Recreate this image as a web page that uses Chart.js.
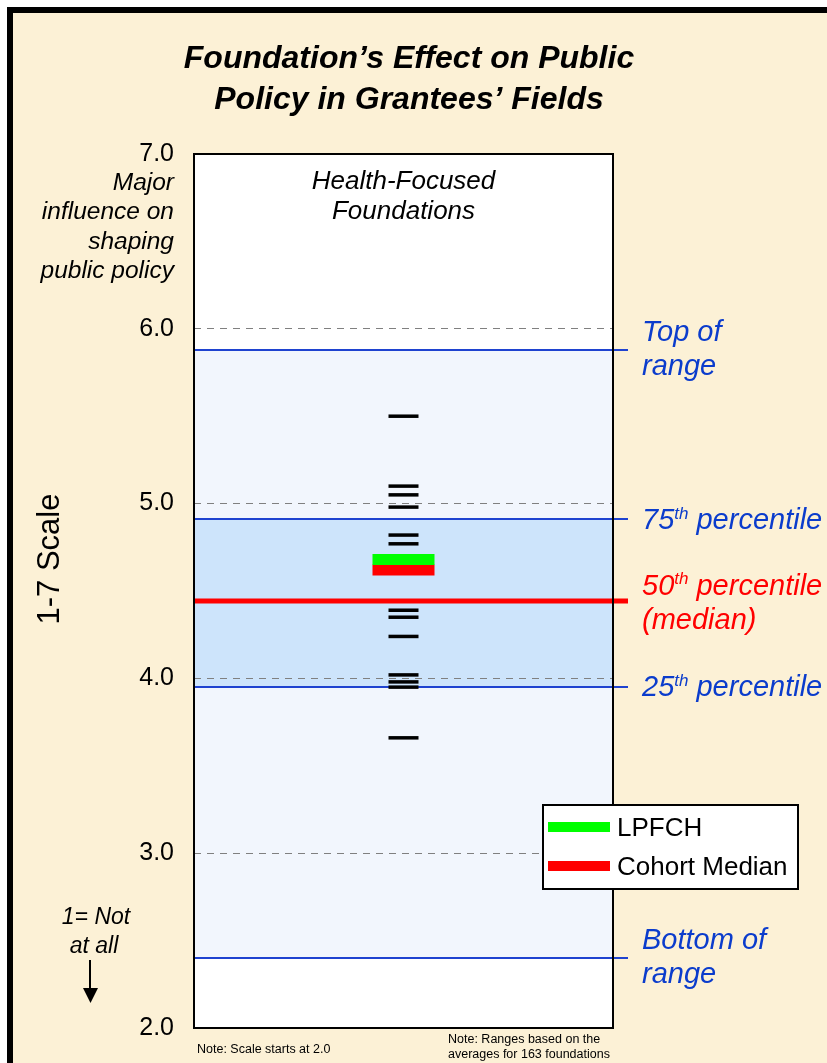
<!DOCTYPE html>
<html>
<head>
<meta charset="utf-8">
<title>Foundation's Effect on Public Policy</title>
<script src="https://cdn.jsdelivr.net/npm/chart.js@4.4.0/dist/chart.umd.min.js"></script>
<style>
  html, body { margin: 0; padding: 0; background: #ffffff; }
  #wrap { position: relative; width: 827px; height: 1063px; }
</style>
</head>
<body>
<div id="wrap"><canvas id="chart"></canvas></div>
<script>
// values (1-7 scale)
const foundationScores = [5.50, 5.10, 5.05, 4.98, 4.82, 4.77, 4.39, 4.35, 4.24, 4.02, 3.98, 3.95, 3.66]
const lpfchScore = [4.68]
const cohortMedianScore = [4.62]
const rangeNames = ['bottom', 'p25', 'median', 'p75', 'top']
const rangeValues = [2.40, 3.95, 4.44, 4.91, 5.88]
const yTicks = [2, 3, 4, 5, 6, 7]

const FONT = 'Arial, "Liberation Sans", sans-serif'
const cream = '#fcf1d6'
const blue = '#0b3ccc'
const range = (name) => rangeValues[rangeNames.indexOf(name)]

const backgroundPlugin = {
    id: 'background',
    beforeDraw: (chart) => {
        const { ctx, chartArea, scales: { y } } = chart
        const { left, right, top, bottom } = chartArea
        ctx.save()
        ctx.fillStyle = '#ffffff'
        ctx.fillRect(0, 0, chart.width, chart.height)
        ctx.fillStyle = cream
        ctx.fillRect(7, 7, chart.width, chart.height)
        ctx.strokeStyle = '#000000'
        ctx.lineWidth = 6
        ctx.beginPath()
        ctx.moveTo(10, chart.height + 10)
        ctx.lineTo(10, 10)
        ctx.lineTo(chart.width + 10, 10)
        ctx.stroke()

        ctx.fillStyle = '#ffffff'
        ctx.fillRect(left, top, right - left, bottom - top)

        // full range band and interquartile band
        const yTop = y.getPixelForValue(range('top'))
        const yBot = y.getPixelForValue(range('bottom'))
        ctx.fillStyle = '#f2f6fd'
        ctx.fillRect(left, yTop, right - left, yBot - yTop)
        const y75 = y.getPixelForValue(range('p75'))
        const y25 = y.getPixelForValue(range('p25'))
        ctx.fillStyle = '#cde4fb'
        ctx.fillRect(left, y75, right - left, y25 - y75)
        ctx.restore()
    }
}

const rangeLinesPlugin = {
    id: 'rangeLines',
    beforeDatasetsDraw: (chart) => {
        const { ctx, chartArea, scales: { y } } = chart
        ctx.save()
        rangeNames.forEach((name, i) => {
            const py = Math.round(y.getPixelForValue(rangeValues[i]))
            ctx.beginPath()
            if (name === 'median') {
                ctx.strokeStyle = '#ff0000'
                ctx.lineWidth = 5
            } else {
                ctx.strokeStyle = '#1f43d0'
                ctx.lineWidth = 2
            }
            ctx.moveTo(chartArea.left, py)
            ctx.lineTo(chartArea.right + 15, py)
            ctx.stroke()
        })
        ctx.restore()
    }
}

const drawSup = (ctx, x, y, big, sup, rest) => {
    ctx.font = `italic 29px ${FONT}`
    ctx.fillText(big, x, y)
    let cx = x + ctx.measureText(big).width
    ctx.font = `italic 17px ${FONT}`
    ctx.fillText(sup, cx, y - 7)
    cx += ctx.measureText(sup).width
    ctx.font = `italic 29px ${FONT}`
    ctx.fillText(rest, cx, y)
}

const annotationsPlugin = {
    id: 'annotations',
    afterDraw: (chart) => {
        const { ctx, chartArea, scales: { y } } = chart
        const { left, right, top, bottom } = chartArea
        const mid = (left + right) / 2
        ctx.save()

        // plot box
        ctx.strokeStyle = '#000000'
        ctx.lineWidth = 2
        ctx.strokeRect(left, top, right - left, bottom - top)

        // title
        ctx.fillStyle = '#000000'
        ctx.textAlign = 'center'
        ctx.textBaseline = 'middle'
        ctx.font = `italic bold 32px ${FONT}`
        ctx.fillText('Foundation\u2019s Effect on Public', 409, 59)
        ctx.fillText('Policy in Grantees\u2019 Fields', 409, 100)

        ctx.font = `italic 26px ${FONT}`
        ctx.fillText('Health-Focused', mid, 182)
        ctx.fillText('Foundations', mid, 212)

        // left side notes
        ctx.textAlign = 'right'
        ctx.font = `italic 24.5px ${FONT}`
        ;['Major', 'influence on', 'shaping', 'public policy'].forEach((t, i) => {
            ctx.fillText(t, 174, 183 + i * 29.5)
        })

        ctx.textAlign = 'center'
        ctx.font = `italic 23px ${FONT}`
        ctx.fillText('1= Not', 96, 918)
        ctx.fillText('at all', 94, 947)
        ctx.beginPath()
        ctx.lineWidth = 2
        ctx.moveTo(90, 960)
        ctx.lineTo(90, 990)
        ctx.stroke()
        ctx.beginPath()
        ctx.moveTo(83, 988)
        ctx.lineTo(98, 988)
        ctx.lineTo(90.5, 1003)
        ctx.closePath()
        ctx.fill()

        ctx.save()
        ctx.translate(50, 559)
        ctx.rotate(-Math.PI / 2)
        ctx.font = `31px ${FONT}`
        ctx.fillText('1-7 Scale', 0, 0)
        ctx.restore()

        // right side range labels
        ctx.textAlign = 'left'
        ctx.fillStyle = blue
        const lx = 642
        const pTop = y.getPixelForValue(range('top'))
        ctx.font = `italic 29px ${FONT}`
        ctx.fillText('Top of', lx, pTop - 17)
        ctx.fillText('range', lx, pTop + 17)
        drawSup(ctx, lx, y.getPixelForValue(range('p75')) + 2, '75', 'th', ' percentile')
        drawSup(ctx, lx, y.getPixelForValue(range('p25')) + 1, '25', 'th', ' percentile')
        const pBot = y.getPixelForValue(range('bottom'))
        ctx.font = `italic 29px ${FONT}`
        ctx.fillText('Bottom of', lx, pBot - 17)
        ctx.fillText('range', lx, pBot + 17)
        ctx.fillStyle = '#ff0000'
        const pMed = y.getPixelForValue(range('median'))
        drawSup(ctx, lx, pMed - 15, '50', 'th', ' percentile')
        ctx.font = `italic 29px ${FONT}`
        ctx.fillText('(median)', lx, pMed + 19)

        // legend
        ctx.fillStyle = '#ffffff'
        ctx.fillRect(543, 805, 255, 84)
        ctx.strokeStyle = '#000000'
        ctx.lineWidth = 2
        ctx.strokeRect(543, 805, 255, 84)
        const items = [
            { label: 'LPFCH', color: '#00ff00', yy: 827 },
            { label: 'Cohort Median', color: '#ff0000', yy: 866 }
        ]
        items.forEach(({ label, color, yy }) => {
            ctx.fillStyle = color
            ctx.fillRect(548, yy - 5, 62, 10)
            ctx.fillStyle = '#000000'
            ctx.font = `26px ${FONT}`
            ctx.fillText(label, 617, yy + 2)
        })

        // footnotes
        ctx.font = `12.5px ${FONT}`
        ctx.fillText('Note: Scale starts at 2.0', 197, 1050)
        ctx.fillText('Note: Ranges based on the', 448, 1040)
        ctx.fillText('averages for 163 foundations', 448, 1055)

        ctx.restore()
    }
}

const ctx = document.getElementById('chart').getContext('2d')

new Chart(ctx, {
    type: 'scatter',
    data: {
        datasets: [
            {
                label: 'Foundations',
                data: foundationScores.map(v => ({ x: 0.5, y: v })),
                pointStyle: 'line',
                radius: 15,
                borderWidth: 3.5,
                borderColor: '#000000',
                backgroundColor: '#000000'
            },
            {
                label: 'LPFCH',
                data: lpfchScore.map(v => ({ x: 0.5, y: v })),
                pointStyle: 'line',
                radius: 31,
                borderWidth: 11,
                borderColor: '#00ff00'
            },
            {
                label: 'Cohort Median',
                data: cohortMedianScore.map(v => ({ x: 0.5, y: v })),
                pointStyle: 'line',
                radius: 31,
                borderWidth: 11,
                borderColor: '#ff0000'
            }
        ]
    },
    options: {
        responsive: true,
        maintainAspectRatio: false,
        animation: false,
        events: [],
        layout: {
            autoPadding: false,
            padding: { left: 0, right: 214, top: 154, bottom: 32 }
        },
        plugins: {
            legend: { display: false },
            title: { display: false },
            tooltip: { enabled: false }
        },
        scales: {
            x: {
                type: 'linear',
                min: 0,
                max: 1,
                display: false
            },
            y: {
                type: 'linear',
                min: 2,
                max: 7,
                afterFit: (scale) => { scale.width = 194 },
                afterBuildTicks: (scale) => {
                    scale.ticks = yTicks.map(v => ({ value: v }))
                },
                ticks: {
                    color: '#000000',
                    font: { family: FONT, size: 25 },
                    padding: 20,
                    callback: (value) => Number(value).toFixed(1)
                },
                grid: {
                    drawTicks: false,
                    lineWidth: 1,
                    color: (c) => (c.tick && (c.tick.value === 2 || c.tick.value === 7)) ? 'rgba(0,0,0,0)' : '#808080'
                },
                border: { display: false, dash: [7, 6] }
            }
        }
    },
    plugins: [backgroundPlugin, rangeLinesPlugin, annotationsPlugin]
})
</script>
</body>
</html>
